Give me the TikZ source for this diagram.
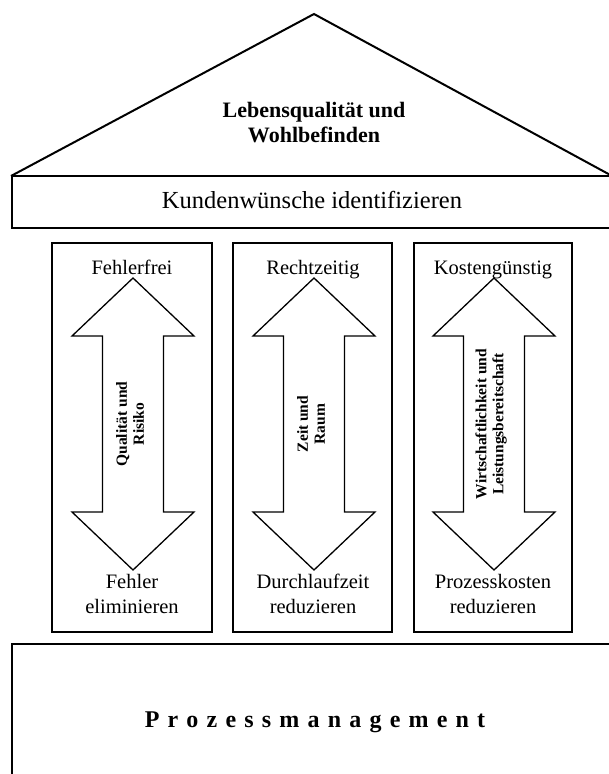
\documentclass[tikz,border=0pt]{standalone}
\usepackage{fontspec}
\setmainfont{Liberation Serif}
% spaced-out lettering for the foundation label
\newcommand\swsep{}
\newcommand\spreadword[1]{\def\swsep{}\spreadloop#1\relax}
\def\spreadloop#1{\ifx#1\relax\else\swsep#1\def\swsep{\kern8.2pt}\expandafter\spreadloop\fi}
\begin{document}
\begin{tikzpicture}[x=1pt,y=-1pt,
  heavy/.style={line width=2pt, line join=miter},
  pillarbox/.style={draw, line width=1.4pt},
  arrowline/.style={draw, line width=1.3pt, line join=miter},
  plain/.style={font=\fontsize{20.5}{25}\selectfont, anchor=base, inner sep=0pt},
  banner/.style={font=\fontsize{24.5}{28}\selectfont, anchor=base, inner sep=0pt},
  title/.style={font=\bfseries\fontsize{22}{26}\selectfont, anchor=base, inner sep=0pt},
  axislabel/.style={font=\bfseries\fontsize{15.5}{17}\selectfont, align=center, rotate=90, inner sep=0pt},
  dblarrow/.pic={
    \draw[arrowline] (0,-146) -- (61,-88) -- (30.5,-88) -- (30.5,88) -- (61,88) -- (0,146)
      -- (-61,88) -- (-30.5,88) -- (-30.5,-88) -- (-61,-88) -- cycle;
  }
]
\useasboundingbox (0,0) rectangle (609,774);
\fill[white] (0,0) rectangle (609,774);
\clip (0,0) rectangle (609,774);

% roof and beam
\draw[heavy] (11,176) -- (314,14) -- (614,177);
\draw[heavy] (12,176) rectangle (620,228);
\node[title] (roof1) at (314,117) {Lebensqualität und};
\node[title] (roof2) at (314,142) {Wohlbefinden};
\node[banner] (beam) at (312,208) {Kundenwünsche identifizieren};

% three pillars
\draw[pillarbox] (52,243) rectangle (212,632);
\draw[pillarbox] (233,243) rectangle (392,632);
\draw[pillarbox] (414,243) rectangle (572,632);

\pic at (133,424) {dblarrow};
\pic at (314,424) {dblarrow};
\pic at (494,424) {dblarrow};

\node[axislabel] (ax1) at (130,424) {Qualität und\\Risiko};
\node[axislabel] (ax2) at (311,424) {Zeit und\\Raum};
\node[axislabel] (ax3) at (491,424) {Wirtschaftlichkeit und\\Leistungsbereitschaft};

\node[plain] (top1) at (132,274) {Fehlerfrei};
\node[plain] (top2) at (313,274) {Rechtzeitig};
\node[plain] (top3) at (493,274) {Kostengünstig};

\node[plain] (bot1a) at (132,588) {Fehler};
\node[plain] (bot1b) at (132,613) {eliminieren};
\node[plain] (bot2a) at (313,588) {Durchlaufzeit};
\node[plain] (bot2b) at (313,613) {reduzieren};
\node[plain] (bot3a) at (493,588) {Prozesskosten};
\node[plain] (bot3b) at (493,613) {reduzieren};

% foundation
\draw[heavy] (620,644) -- (12,644) -- (12,790);
\node[font=\bfseries\fontsize{24}{28}\selectfont, anchor=base, inner sep=0pt] (base) at (315,727)
  {\spreadword{Prozessmanagement}};
\end{tikzpicture}
\end{document}
